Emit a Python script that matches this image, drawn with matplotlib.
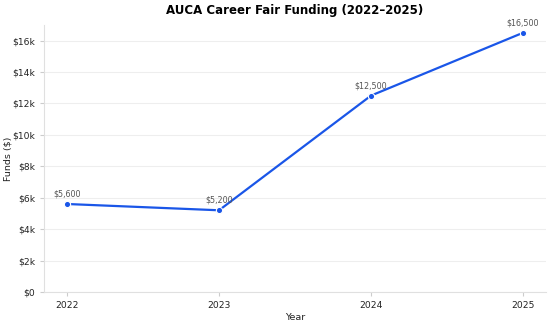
import matplotlib.pyplot as plt
from matplotlib.ticker import FuncFormatter

years = [2022, 2023, 2024, 2025]
funds = [5600, 5200, 12500, 16500]
labels = ["$5,600", "$5,200", "$12,500", "$16,500"]

fig = plt.figure(figsize=(5.52, 3.23), dpi=100)
ax = fig.add_axes([0.08, 0.096, 0.909, 0.827])

ax.plot(years, funds, color="#1a56e8", linewidth=1.6, marker="o", markersize=4.5,
        markerfacecolor="#1a56e8", markeredgecolor="white", markeredgewidth=0.8)
for x, y, t in zip(years, funds, labels):
    ax.annotate(t, (x, y), xytext=(0, 4), textcoords="offset points",
                ha="center", va="bottom", fontsize=5.8, color="#555555")

ax.set_title("AUCA Career Fair Funding (2022–2025)", fontsize=8.5, fontweight="bold", pad=8)
ax.set_xlabel("Year", fontsize=6.8, labelpad=2, color="#222222")
ax.set_ylabel("Funds ($)", fontsize=6.8, labelpad=0, color="#222222")
ax.set_xticks(years)
ax.set_ylim(0, 17000)
ax.set_yticks(range(0, 17000, 2000))
ax.yaxis.set_major_formatter(FuncFormatter(lambda v, p: "$0" if v == 0 else f"${int(v/1000)}k"))
ax.tick_params(labelsize=6.6, length=3, color="#cccccc", labelcolor="#222222")
ax.grid(axis="y", color="#eeeeee", linewidth=0.8)
ax.set_axisbelow(True)
for s in ["top", "right"]:
    ax.spines[s].set_visible(False)
for s in ["left", "bottom"]:
    ax.spines[s].set_color("#e0e0e0")

fig.savefig("out.png", dpi=100)
